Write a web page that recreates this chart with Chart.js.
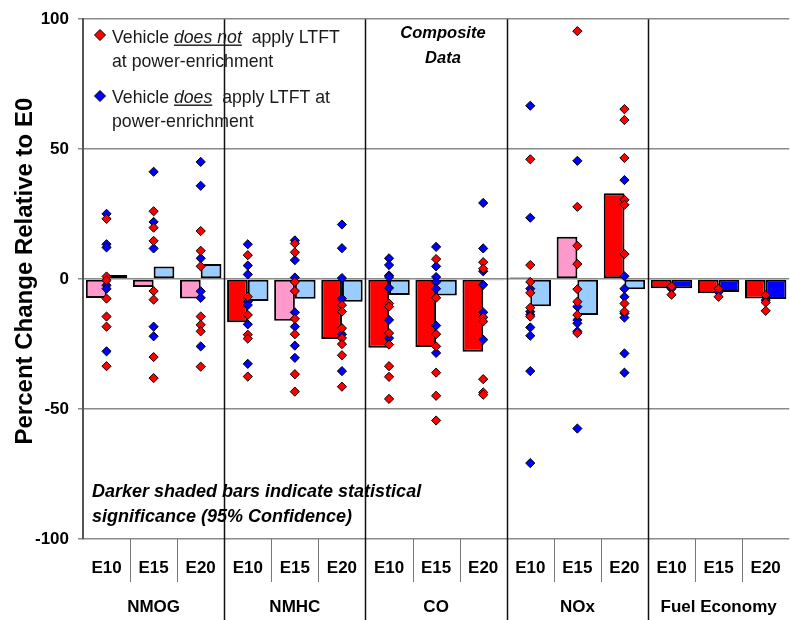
<!DOCTYPE html>
<html>
<head>
<meta charset="utf-8">
<script src="https://cdn.jsdelivr.net/npm/chart.js@4/dist/chart.umd.min.js"></script>
<style>
  html, body { margin: 0; padding: 0; background: #fff; overflow: hidden; }
  #wrap { width: 800px; height: 620px; }
</style>
</head>
<body>
<div id="wrap"><canvas id="c" width="800" height="620"></canvas></div>
<script>
// Blend categories and pollutant groups
const categories = ['E10', 'E15', 'E20', 'E10', 'E15', 'E20', 'E10', 'E15', 'E20', 'E10', 'E15', 'E20', 'E10', 'E15', 'E20'];
const groups = ['NMOG', 'NMHC', 'CO', 'NOx', 'Fuel Economy'];
const yTicks = [-100, -50, 0, 50, 100];

// Mean percent change vs E0 (composite)
const noLtftMeans = [-7.3, -3.0, -7.5, -16.6, -16.0, -23.0, -26.4, -26.1, -28.0, 0.6, 16.3, 33.0, -3.5, -5.4, -7.5];
const ltftMeans   = [1.6, 4.8, 5.8, -8.4, -7.6, -8.7, -6.1, -6.3, -0.4, -10.4, -13.8, -3.9, -3.5, -5.0, -7.7];

// Statistically significant means (95% confidence)
const noLtftSignificant = [false, false, false, true, false, true, true, true, true, true, false, true, true, true, true];
const ltftSignificant   = [false, false, false, false, false, false, false, false, false, false, false, false, true, true, true];

// Individual vehicle results, one list per category
const noLtftVehicles = [
  [23.2, 1.0, -0.5, -7.5, -14.4, -18.3, -33.5],
  [26.1, 19.8, 14.7, -4.6, -7.9, -30.0, -38.1],
  [18.5, 10.9, 4.9, -14.4, -17.6, -20.1, -33.7],
  [9.2, -6.8, -13.8, -21.4, -22.9, -37.5],
  [13.7, 10.3, -1.1, -4.6, -15.3, -21.2, -36.6, -43.3],
  [-10.0, -12.5, -18.9, -22.7, -25.0, -29.3, -41.4],
  [-9.4, -10.6, -20.8, -25.2, -33.5, -37.6, -46.1],
  [7.7, -7.2, -21.2, -25.9, -36.0, -44.9, -54.4],
  [6.5, 4.0, -14.7, -16.3, -38.5, -43.6, -44.5],
  [46.1, 5.4, -1.1, -5.3, -11.0, -14.4],
  [95.4, 27.8, 12.8, 5.8, -3.9, -8.7, -13.8, -20.8],
  [65.4, 61.2, 46.6, 30.5, 28.6, 9.6, -9.4, -12.5],
  [-2.8, -6.0],
  [-3.7, -6.8],
  [-6.2, -9.0, -12.2]
];
const ltftVehicles = [
  [25.1, 13.4, 12.2, -2.4, -3.7, -27.8],
  [41.3, 22.0, 11.8, -18.3, -22.0],
  [45.1, 35.9, 8.0, -4.7, -7.2, -25.9],
  [13.4, 5.2, 1.8, -8.7, -10.0, -17.4, -32.6],
  [14.9, 7.3, 0.6, -12.8, -18.3, -25.6, -30.3],
  [21.0, 11.9, 0.4, -7.5, -21.2, -35.4],
  [8.0, 5.4, 1.4, 0.8, -3.4, -15.7, -22.7],
  [12.4, 4.9, 0.8, -1.1, -3.7, -17.9, -28.4],
  [29.3, 11.8, 3.0, -2.2, -12.8, -23.3],
  [66.7, 23.6, -3.7, -12.5, -13.7, -18.6, -21.8, -35.4, -70.8],
  [45.5, -10.6, -15.7, -17.0, -20.1, -57.5],
  [38.1, 1.1, -3.7, -6.8, -13.2, -14.8, -28.6, -36.0],
  [-3.7],
  [-5.0],
  [-8.1]
];

const FONT = '"Liberation Sans", Arial, Helvetica, sans-serif';
const RED = '#FF0000', PINK = '#FF99CC', BLUE = '#0000FF', LIGHTBLUE = '#99CCFF';

// {x: category index, y: value} for every vehicle result
function toPoints(lists) {
  const pts = [];
  lists.forEach((vals, i) => vals.forEach(v => pts.push({ x: i, y: v })));
  return pts;
}

// Separators between categories and groups, group names and axis title
const separators = {
  id: 'separators',
  beforeDatasetsDraw(chart) {
    const { ctx, chartArea, scales: { x } } = chart;
    ctx.save();
    for (let i = 1; i < categories.length; i++) {
      const px = Math.round((x.getPixelForValue(i - 1) + x.getPixelForValue(i)) / 2) + 0.5;
      ctx.beginPath();
      if (i % 3 === 0) {
        ctx.strokeStyle = '#111';
        ctx.lineWidth = 1.5;
        ctx.moveTo(px, chartArea.top);
        ctx.lineTo(px, chart.height);
      } else {
        ctx.strokeStyle = '#777';
        ctx.lineWidth = 1;
        ctx.moveTo(px, chartArea.bottom);
        ctx.lineTo(px, chartArea.bottom + 43);
      }
      ctx.stroke();
    }
    ctx.restore();
  },
  afterDraw(chart) {
    const { ctx, chartArea, scales: { x } } = chart;
    ctx.save();
    ctx.fillStyle = '#000';
    ctx.font = 'bold 17px ' + FONT;
    ctx.textAlign = 'center';
    ctx.textBaseline = 'middle';
    groups.forEach((g, k) => {
      ctx.fillText(g, x.getPixelForValue(k * 3 + 1), 607);
    });
    ctx.translate(25, (chartArea.top + chartArea.bottom) / 2 - 8);
    ctx.rotate(-Math.PI / 2);
    ctx.font = 'bold 24px ' + FONT;
    ctx.fillText('Percent Change Relative to E0', 0, 0);
    ctx.restore();
  }
};

function drawRuns(ctx, x, y, runs, size) {
  let cx = x;
  for (const r of runs) {
    ctx.font = (r.italic ? 'italic ' : '') + size + 'px ' + FONT;
    const w = ctx.measureText(r.text).width;
    ctx.fillText(r.text, cx, y);
    if (r.underline) ctx.fillRect(cx, y + 2, w, 1.4);
    cx += w;
  }
}

function diamond(ctx, cx, cy, r, fill) {
  ctx.beginPath();
  ctx.moveTo(cx, cy - r);
  ctx.lineTo(cx + r, cy);
  ctx.lineTo(cx, cy + r);
  ctx.lineTo(cx - r, cy);
  ctx.closePath();
  ctx.fillStyle = fill;
  ctx.fill();
  ctx.lineWidth = 1;
  ctx.strokeStyle = '#000';
  ctx.stroke();
}

// Legend box and notes inside the plot
const notes = {
  id: 'notes',
  afterDraw(chart) {
    const { ctx } = chart;
    ctx.save();
    ctx.textAlign = 'left';
    ctx.textBaseline = 'alphabetic';

    diamond(ctx, 100, 35, 5.5, RED);
    diamond(ctx, 100, 96, 5.5, BLUE);
    ctx.fillStyle = '#1a1a1a';
    const ls = 17.7;
    drawRuns(ctx, 112, 42.5, [{ text: 'Vehicle ' }, { text: 'does not', italic: true, underline: true }, { text: '  apply LTFT' }], ls);
    drawRuns(ctx, 112, 67, [{ text: 'at power-enrichment' }], ls);
    drawRuns(ctx, 112, 102.5, [{ text: 'Vehicle ' }, { text: 'does', italic: true, underline: true }, { text: '  apply LTFT at' }], ls);
    drawRuns(ctx, 112, 127, [{ text: 'power-enrichment' }], ls);

    ctx.fillStyle = '#000';
    ctx.textAlign = 'center';
    ctx.font = 'italic bold 16.5px ' + FONT;
    ctx.fillText('Composite', 443, 38);
    ctx.fillText('Data', 443, 63);

    ctx.textAlign = 'left';
    ctx.font = 'italic bold 18px ' + FONT;
    ctx.fillText('Darker shaded bars indicate statistical', 92, 497);
    ctx.fillText('significance (95% Confidence)', 92, 522);
    ctx.restore();
  }
};

// Vehicle results share the category axis; x is the category index
const pointStyleOpts = {
  type: 'line',
  showLine: false,
  parsing: false,
  normalized: true,
  pointStyle: 'rectRot',
  pointRadius: 4.6,
  pointHoverRadius: 4.6,
  pointBorderColor: '#000',
  pointBorderWidth: 1
};

new Chart(document.getElementById('c'), {
  type: 'bar',
  data: {
    labels: categories,
    datasets: [
      {
        label: 'No LTFT mean',
        data: noLtftMeans,
        backgroundColor: noLtftSignificant.map(s => s ? RED : PINK),
        borderColor: '#000',
        borderWidth: 2,
        borderSkipped: false,
        categoryPercentage: 0.88,
        barPercentage: 1.0,
        order: 2
      },
      {
        label: 'LTFT mean',
        data: ltftMeans,
        backgroundColor: ltftSignificant.map(s => s ? BLUE : LIGHTBLUE),
        borderColor: '#000',
        borderWidth: 2,
        borderSkipped: false,
        categoryPercentage: 0.88,
        barPercentage: 1.0,
        order: 2
      },
      Object.assign({}, pointStyleOpts, {
        label: 'Vehicle does apply LTFT at power-enrichment',
        data: toPoints(ltftVehicles),
        pointBackgroundColor: BLUE,
        backgroundColor: BLUE,
        order: 1
      }),
      Object.assign({}, pointStyleOpts, {
        label: 'Vehicle does not apply LTFT at power-enrichment',
        data: toPoints(noLtftVehicles),
        pointBackgroundColor: RED,
        backgroundColor: RED,
        order: 0
      })
    ]
  },
  options: {
    responsive: false,
    animation: false,
    devicePixelRatio: 1,
    layout: { padding: { left: 0, top: 15, right: 3, bottom: 0 } },
    plugins: { legend: { display: false }, tooltip: { enabled: false } },
    scales: {
      x: {
        type: 'category',
        offset: true,
        grid: { display: false, drawTicks: false },
        border: { display: false },
        ticks: { font: { family: FONT, size: 17, weight: 'bold' }, color: '#000', padding: 19, autoSkip: false, maxRotation: 0 },
        afterFit(scale) { scale.height = 81; }
      },
      y: {
        min: yTicks[0],
        max: yTicks[yTicks.length - 1],
        afterBuildTicks(scale) { scale.ticks = yTicks.map(v => ({ value: v })); },
        ticks: { font: { family: FONT, size: 17, weight: 'bold' }, color: '#000', padding: 9 },
        grid: { color: '#8a8a8a', lineWidth: 1.5, tickLength: 5 },
        border: { display: true, color: '#555', width: 2 },
        afterFit(scale) { scale.width = 83; }
      }
    }
  },
  plugins: [separators, notes]
});
</script>
</body>
</html>
